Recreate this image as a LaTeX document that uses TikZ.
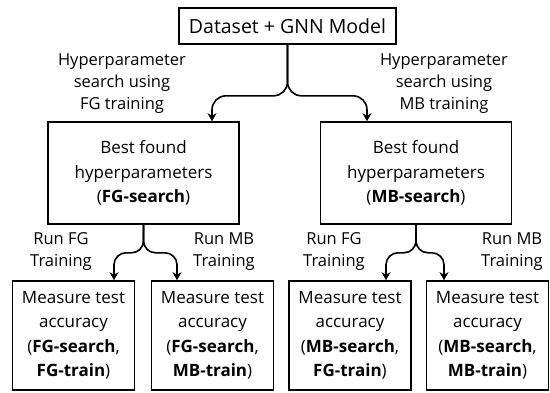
\documentclass[tikz,border=0pt]{standalone}
\usepackage{fontspec}
\setmainfont{Open Sans}
\usetikzlibrary{arrows.meta, positioning}

\begin{document}
\begin{tikzpicture}[
    x=1pt, y=-1pt,
    box/.style={rectangle, draw, line width=1.6pt, inner sep=0pt, align=center, font=\fontsize{17}{24.5}\selectfont},
    topbox/.style={box, minimum width=217pt, minimum height=36pt, font=\fontsize{19.5}{24}\selectfont},
    bestbox/.style={box, minimum width=191pt, minimum height=102pt},
    accbox/.style={box, minimum width=122pt, minimum height=109pt},
    arrow/.style={-{Stealth[length=8pt, width=9pt, inset=2.5pt]}, line width=1.6pt, rounded corners=14pt},
    note/.style={align=center, inner sep=0pt, font=\fontsize{16.5}{22}\selectfont}
]
\useasboundingbox (0,0) rectangle (550,392);

% Dataset and search results
\node[topbox] (data) at (287.5,26) {Dataset + GNN Model};
\node[bestbox] (bestFG) at (143.5,173) {Best found\\hyperparameters\\(\textbf{FG-search})};
\node[bestbox] (bestMB) at (416,173) {Best found\\hyperparameters\\(\textbf{MB-search})};

% Accuracy measurements
\node[accbox] (accFF) at (73.5,335.5) {Measure test\\accuracy\\(\textbf{FG-search},\\\textbf{FG-train})};
\node[accbox] (accFM) at (212.5,335.5) {Measure test\\accuracy\\(\textbf{FG-search},\\\textbf{MB-train})};
\node[accbox] (accMF) at (350,335.5) {Measure test\\accuracy\\(\textbf{MB-search},\\\textbf{FG-train})};
\node[accbox] (accMM) at (487.5,335.5) {Measure test\\accuracy\\(\textbf{MB-search},\\\textbf{MB-train})};

% Branch labels
\node[note] (searchFG) at (122,84) {Hyperparameter\\search using\\FG training};
\node[note] (searchMB) at (444,84) {Hyperparameter\\search using\\MB training};
\node[note] (runFF) at (61,252) {Run FG\\Training};
\node[note] (runFM) at (224,252) {Run MB\\Training};
\node[note] (runMF) at (334,252) {Run FG\\Training};
\node[note] (runMM) at (512,252) {Run MB\\Training};

% Search branches
\draw[arrow] (data.south) -- ++(0,51) -| ([xshift=68.5pt]bestFG.north);
\draw[arrow] (data.south) -- ++(0,51) -| ([xshift=-49pt]bestMB.north);

% Training branches
\draw[arrow, rounded corners=12pt] (bestFG.south) -- ++(0,28) -| ([xshift=40.5pt]accFF.north);
\draw[arrow, rounded corners=12pt] (bestFG.south) -- ++(0,28) -| ([xshift=-35.5pt]accFM.north);
\draw[arrow, rounded corners=12pt] (bestMB.south) -- ++(0,28) -| ([xshift=36pt]accMF.north);
\draw[arrow, rounded corners=12pt] (bestMB.south) -- ++(0,28) -| ([xshift=-43.5pt]accMM.north);

\end{tikzpicture}
\end{document}
